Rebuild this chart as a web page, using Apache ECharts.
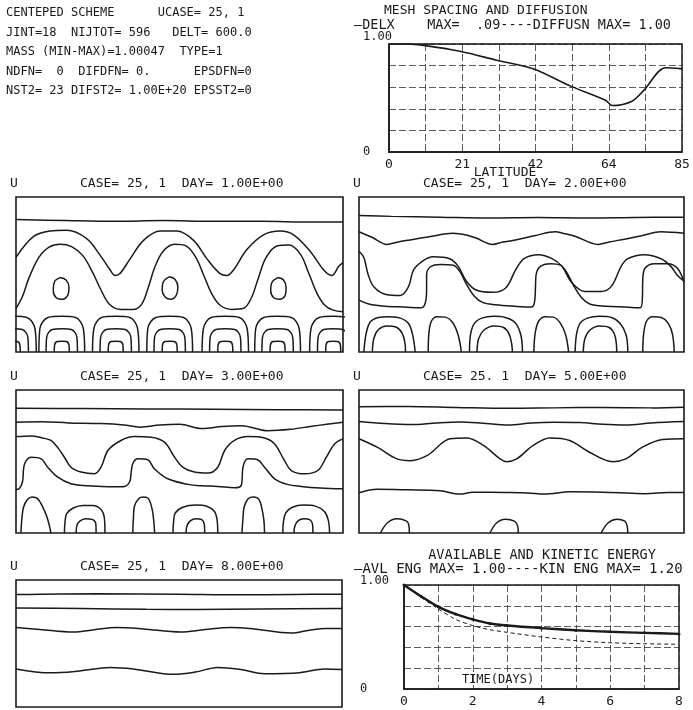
<!DOCTYPE html>
<html>
<head>
<meta charset="utf-8">
<script src="https://cdn.jsdelivr.net/npm/echarts@6/dist/echarts.min.js"></script>
<style>
  html, body { margin: 0; padding: 0; background: #fff; }
  #chart { width: 693px; height: 710px; }
</style>
</head>
<body>
<div id="chart"></div>
<script>
// mesh spacing panel
const latTicks = ['0', '21', '42', '64', '85']
const meshLat = [0, 5, 10.6, 20.9, 31.2, 41.8, 52.7, 62.8, 64.8, 70.5, 73.9, 80.2, 85]
const delx = [1, 1, 0.985, 0.93, 0.85, 0.77, 0.61, 0.48, 0.43, 0.47, 0.57, 0.78, 0.77]
const diffusn = [1, 1, 1, 1, 1, 1, 1, 1, 1, 1, 1, 1, 1]

// energy panel
const dayTicks = ['0', '2', '4', '6', '8']
const days = [0, 0.5, 1, 1.5, 2, 2.5, 3, 4, 5, 6, 7, 8]
const avlEng = [1, 0.89, 0.79, 0.72, 0.67, 0.63, 0.61, 0.585, 0.565, 0.55, 0.54, 0.53]
const kinEng = [1, 0.88, 0.77, 0.67, 0.61, 0.57, 0.545, 0.5, 0.465, 0.445, 0.435, 0.43]

// contour lines of U, x 0..100 across, y 0..100 bottom to top
const day1Lines = [
  [[0,85.5],[15,84.8],[30,84.3],[45,84.8],[60,84.3],[75,84.3],[90,83.8],[100,83.8]],
  [[0,61],[5.3,74.4],[10.4,78],[15.5,78.5],[21.6,73.2],[25.7,62.5],[28.8,52.9],[30.3,49.4],[31.8,50.6],[34.9,60.1],[39,72],[44.1,78],[49.2,78],[54.3,72],[58.4,60.1],[62.4,50.6],[64.5,49.4],[66.5,52.9],[70.6,66.1],[75.7,75.6],[80.8,78],[84.9,75.6],[90,64.9],[94.1,52.9],[96.6,49.4],[98.7,55.3],[100,57.7]],
  [[0,28],[2,36],[4,48],[7,61],[10,67.5],[13.5,69.5],[17,68],[20.5,62],[23.5,51],[26,40],[28.5,31],[32,27.5],[36,27.5],[38.5,31],[40.5,42],[42.5,55],[45,65],[48.5,69.5],[52,68.5],[55,61],[57.5,49],[60,37],[62.5,30],[66,27.5],[69.5,28],[72,35],[74,47],[76.5,61],[80,68.5],[83.5,69],[87,63],[89.5,51],[92,38],[94.5,30],[97,27],[100,26]],
  [[13.5,48],[15.3,46.5],[16.2,42],[15.8,36.5],[14.2,34],[12.3,35],[11.4,39.5],[11.8,45.5],[13.5,48]],
  [[46.8,48.5],[48.6,47],[49.5,42],[49,36.5],[47.4,34],[45.6,35.5],[44.7,40],[45.1,45.5],[46.8,48.5]],
  [[80,48],[81.8,46.5],[82.6,41.5],[82.2,36],[80.6,34],[78.8,35],[77.9,39.5],[78.3,45],[80,48]],
  // bottom arches
  [[-8.2,0],[-7.8,15],[-5.3,22.3],[-1,23],[3.3,22.3],[5.8,15],[6.2,0]],
  [[-5.8,0],[-5.6,9.8],[-3.9,14.5],[-1,15],[1.9,14.5],[3.6,9.8],[3.8,0]],
  [[-3.3,0],[-3.2,4.5],[-2.4,6.8],[-1,7],[0.4,6.8],[1.2,4.5],[1.3,0]],
  [[7,0],[7.3,15],[9.8,22.3],[14,23],[18.2,22.3],[20.6,15],[21,0]],
  [[9.2,0],[9.4,9.8],[11.1,14.5],[14,15],[16.9,14.5],[18.6,9.8],[18.8,0]],
  [[11.7,0],[11.8,4.5],[12.6,6.8],[14,7],[15.4,6.8],[16.2,4.5],[16.3,0]],
  [[23.4,0],[23.8,15],[26.2,22.3],[30.5,23],[34.8,22.3],[37.2,15],[37.6,0]],
  [[25.7,0],[25.9,9.8],[27.6,14.5],[30.5,15],[33.4,14.5],[35.1,9.8],[35.3,0]],
  [[28.2,0],[28.3,4.5],[29.1,6.8],[30.5,7],[31.9,6.8],[32.7,4.5],[32.8,0]],
  [[40,0],[40.3,15],[42.8,22.3],[47,23],[51.2,22.3],[53.6,15],[54,0]],
  [[42.2,0],[42.4,9.8],[44.1,14.5],[47,15],[49.9,14.5],[51.6,9.8],[51.8,0]],
  [[44.7,0],[44.8,4.5],[45.6,6.8],[47,7],[48.4,6.8],[49.2,4.5],[49.3,0]],
  [[56.9,0],[57.3,15],[59.7,22.3],[64,23],[68.3,22.3],[70.7,15],[71.1,0]],
  [[59.2,0],[59.4,9.8],[61.1,14.5],[64,15],[66.9,14.5],[68.6,9.8],[68.8,0]],
  [[61.7,0],[61.8,4.5],[62.6,6.8],[64,7],[65.4,6.8],[66.2,4.5],[66.3,0]],
  [[73,0],[73.3,15],[75.8,22.3],[80,23],[84.2,22.3],[86.6,15],[87,0]],
  [[75.2,0],[75.4,9.8],[77.1,14.5],[80,15],[82.9,14.5],[84.6,9.8],[84.8,0]],
  [[77.7,0],[77.8,4.5],[78.6,6.8],[80,7],[81.4,6.8],[82.2,4.5],[82.3,0]],
  [[89.8,0],[90.2,15],[92.7,22.3],[97,23],[101.3,22.3],[103.8,15],[104.2,0]],
  [[92.2,0],[92.4,9.8],[94.1,14.5],[97,15],[99.9,14.5],[101.6,9.8],[101.8,0]],
  [[94.7,0],[94.8,4.5],[95.6,6.8],[97,7],[98.4,6.8],[99.2,4.5],[99.3,0]]
]

const day2Lines = [
  [[0,88],[10,87.5],[25,87],[40,86.5],[55,86.8],[70,86.5],[85,86.8],[100,87]],
  [[0,77.6],[4,74],[8.6,69.4],[12,71],[15.7,72.3],[22,74.5],[28.9,76.6],[33,75.5],[36,73.5],[41.1,69.4],[44,70.8],[48.2,72.3],[54,75],[60.4,77.6],[63,76.5],[66.5,74.7],[73.6,69.4],[77,71],[81.7,72.8],[87,75],[92.9,77.6],[100,76.6]],
  [[0,65],[1.5,61],[2.8,50],[4.6,42],[8.6,37],[12.7,36.5],[15.2,42],[16.8,53],[19.8,59],[22.8,61.4],[27.9,60.2],[30.5,55.4],[33,45.8],[36,40],[41.1,38.5],[45.2,41.5],[48.2,53],[50.8,60.2],[55.3,62.7],[59.4,60.2],[62.4,55.4],[65.5,44.6],[69.5,39],[74.6,39],[77.7,42.5],[80.7,55.4],[82.7,60.2],[87.8,62.7],[92.9,60.2],[95.9,55.4],[98,49.4],[100,45.8]],
  [[0,33.5],[3,31],[8,29.5],[14,29],[19,28.5],[20.3,31],[20.8,40],[20.8,50],[22,55],[25,56.5],[29,56],[31,52],[33,44],[35.5,36],[38,32],[42,30.5],[48,29.5],[53,29],[54,32],[54.3,42],[54.5,50],[56,55.5],[59,57],[62,56],[64,51],[66,43],[68.5,35],[71,31],[76,29.5],[82,29],[86.5,28.5],[87.2,35],[87.3,46],[88,54],[91,57],[95,57],[98,54],[100,45]],
  // bottom arches
  [[1.5,0],[2.2,12],[3.5,19.5],[6,22.3],[9,22.8],[12.5,22],[15.2,18.5],[16.5,11],[17.3,0]],
  [[4.1,0],[4.6,9],[6,14.5],[8.6,16.8],[11.5,16],[13.3,12],[14.2,5],[14.3,0]],
  [[21.3,0],[21.5,12],[22.3,20],[24,22.8],[26.5,22.5],[28.8,19],[30.5,11],[31.5,0]],
  [[34,0],[34.3,11],[35.5,18.5],[38,22],[41.5,23],[45,22.3],[48,19],[49.8,11],[50.3,0]],
  [[36.3,0],[36.8,8.5],[38.4,14],[41.5,16.8],[44.5,15.8],[46.2,11.5],[47,5],[47.2,0]],
  [[53.8,0],[54.2,12],[55.3,20],[57.3,22.8],[59.8,22.5],[62,18.5],[63.6,11],[64.5,0]],
  [[66.5,0],[66.9,11],[68,18.5],[70.5,22],[74,23],[77.7,22.3],[80.3,18.5],[82.2,11],[82.7,0]],
  [[69,0],[69.5,8.5],[71,14],[74,16.8],[77,15.8],[78.6,11.5],[79.2,5],[79.3,0]],
  [[87.3,0],[87.6,12],[88.5,20],[90.3,22.8],[93,22.3],[95.3,18],[96.5,11],[97,0]]
]

const day3Lines = [
  [[0,87.2],[20,87],[40,86.8],[60,86.5],[80,86.2],[100,86]],
  [[0,77.5],[8,77.8],[16,77],[26,76.5],[33,75.5],[38,74],[44,75.5],[50,76],[57,73],[63,74.5],[69,75],[77,71.5],[84,72.5],[90,74.5],[95,76],[100,77.5]],
  [[0,67.4],[4.6,67.9],[8,66.5],[10.7,64.7],[13,59],[14.8,53],[16.8,46],[19.9,42.6],[24,41.4],[26,46],[28.1,57.7],[32.1,64.7],[36.2,67.4],[41.3,67],[45.4,63.5],[48.5,53],[51,46],[54.6,42.6],[58.7,41.9],[61.7,46],[63.8,57.7],[66.8,64.7],[70.9,67.4],[76,66.5],[79.1,62.3],[82.1,50.7],[84.2,43.7],[88.3,41.4],[92.3,43.7],[94.9,53],[97.4,62.3],[100,65.8]],
  [[0,30.5],[1,31],[2,36],[2.6,48],[4.6,53],[7.7,51.9],[9.7,46],[12.8,39],[16.8,34.4],[22,33],[26,32.6],[30,32.4],[33.2,32.6],[34.8,36],[35.2,42],[35.7,48.4],[37.2,51.9],[40.3,51.2],[42.3,44.9],[46.4,37.9],[52.6,34],[57,33],[61.7,32.6],[66.8,31.6],[68.9,33.3],[69.2,40],[69.4,46],[70.9,51.9],[73.9,51.2],[76,46],[79.1,37.9],[83,34],[87.2,32.6],[93,31.5],[100,30.9]],
  // bottom arches
  [[1.5,0],[1.8,10],[2.3,18],[3.5,23.5],[5,25.2],[6.6,24],[8,19],[9.5,11],[10.7,0]],
  [[14.8,0],[15,8],[15.5,13.5],[17.5,17.5],[20.5,19.3],[23.5,19.3],[26,16.5],[27,11],[27.2,0]],
  [[18.4,0],[18.6,5],[19.5,8.3],[21.3,10],[23.3,9.5],[24.4,6.5],[24.5,0]],
  [[35.7,0],[35.9,10],[36.2,18.5],[37.5,24],[39,25.2],[40.5,24],[41.6,17],[42.1,9],[42.4,0]],
  [[48,0],[48.2,8],[48.7,14],[51,18],[55,19.5],[58.5,18.5],[60.7,15],[61.5,9],[61.7,0]],
  [[52,0],[52.3,5],[53.3,8.5],[55,10],[56.8,9.3],[57.6,6],[57.7,0]],
  [[69.1,0],[69.4,10],[69.8,18.5],[71,24],[72.6,25.2],[74.3,23.5],[75.2,17],[75.8,9],[76,0]],
  [[81.6,0],[81.8,8],[82.5,14],[84.5,18],[88,19.5],[91.5,18.8],[94.3,15],[95.5,9],[95.9,0]],
  [[85,0],[85.3,5],[86.3,8.6],[88,10],[89.8,9.3],[90.7,6],[90.8,0]]
]

const day5Lines = [
  [[0,88.2],[15,88.5],[30,87.8],[46,87.2],[60,87.5],[75,87.8],[90,87.5],[100,88]],
  [[0,78],[8,76.5],[16,75.8],[24,77],[31,77.6],[38,76.8],[46,75.5],[53,77],[60,77.5],[68,77.2],[75,76],[82,75.5],[90,77],[100,78]],
  [[0,65.9],[5.6,60],[11.7,51.8],[15.8,50.6],[20.9,54.1],[28.1,65.9],[33.2,66.4],[38.3,61.2],[43.4,51.8],[45.4,49.9],[48.5,51.8],[53.6,61.2],[58.7,66.4],[64.8,64.7],[70.9,56.5],[78.1,49.9],[82.1,51.8],[87.2,60],[93.4,65.4],[100,65.9]],
  [[0,28.2],[5.6,30.6],[15,30.2],[25,29.5],[31,27.2],[35,28.5],[45,28.3],[52,28],[57,27.2],[65,28.8],[75,28.5],[82,28],[88,27.5],[95,28.3],[100,28.4]],
  [[6.6,0],[8.7,7],[11.7,9.9],[14.5,8.5],[15.3,6],[15.5,0]],
  [[40.3,0],[42.3,7],[45,9.6],[47.8,8.3],[48.8,5],[49,0]],
  [[74.5,0],[76.6,7],[79.3,9.7],[81.8,8.3],[82.5,5],[82.7,0]]
]

const day8Lines = [
  [[0,88.5],[25,89.2],[50,88.8],[68,88.3],[85,88.6],[100,88.8]],
  [[0,78],[20,77.5],[40,77],[55,76.8],[75,77.2],[100,77.6]],
  [[0,62.6],[7.4,61],[17.7,59],[24,60.8],[31,62.6],[39,61.5],[50.5,59],[58,61],[65.9,62.6],[73,61.5],[84.4,58.3],[90,60.5],[95,61.8],[100,61.9]],
  [[0,30],[10.5,26.9],[18.7,28.2],[29,31.2],[36,30],[48.5,25.7],[55,27.5],[61.8,31.2],[69,29.5],[76.2,26.2],[87,27],[94.7,30],[100,29.5]]
]

const panelTitles = [
  'CASE= 25, 1  DAY= 1.00E+00',
  'CASE= 25, 1  DAY= 2.00E+00',
  'CASE= 25, 1  DAY= 3.00E+00',
  'CASE= 25. 1  DAY= 5.00E+00',
  'CASE= 25, 1  DAY= 8.00E+00'
]

const headerLines = [
  'CENTEPED SCHEME      UCASE= 25, 1',
  'JINT=18  NIJTOT= 596   DELT= 600.0',
  'MASS (MIN-MAX)=1.00047  TYPE=1',
  'NDFN=  0  DIFDFN= 0.      EPSDFN=0',
  'NST2= 23 DIFST2= 1.00E+20 EPSST2=0'
]

const ink = '#1a1a1a'
const mono = '"DejaVu Sans Mono", monospace'

// panel boxes in pixels: left, top, width, height
const contourBoxes = [
  [16, 197, 327, 155],
  [359, 197, 325, 155],
  [16, 390, 327, 143],
  [359, 390, 325, 143],
  [16, 580, 326, 127]
]
const contourSets = [day1Lines, day2Lines, day3Lines, day5Lines, day8Lines]

const chart = echarts.init(document.getElementById('chart'), null, { renderer: 'canvas' })

const grids = []
const xAxes = []
const yAxes = []
const series = []
const graphics = []

function addText(text, x, y, size, align) {
  graphics.push({
    type: 'text',
    x: x,
    y: y,
    style: {
      text: text,
      font: size + 'px ' + mono,
      fill: ink,
      align: align || 'left',
      verticalAlign: 'middle'
    }
  })
}

// header text block
headerLines.forEach((t, i) => addText(t, 6, 13 + i * 19.5, 12))

function plotAxes(gi, xmax, xint, xlabels, ymax, ymargin, topPad) {
  xAxes.push({
    gridIndex: gi, type: 'value', min: 0, max: xmax, interval: xint,
    axisLine: { show: true, lineStyle: { color: ink, width: 1.5 } },
    axisTick: { show: false },
    splitLine: { show: true, lineStyle: { color: '#333', width: 0.8, type: [7, 3] } },
    axisLabel: {
      color: ink, fontFamily: mono, fontSize: 13, margin: 6,
      formatter: function (v) {
        const i = Math.round(v / xint)
        return i % 2 === 0 ? xlabels[i / 2] : ''
      }
    }
  })
  yAxes.push({
    gridIndex: gi, type: 'value', min: 0, max: ymax, interval: 0.2,
    axisLine: { show: true, lineStyle: { color: ink, width: 1.5 } },
    axisTick: { show: false },
    splitLine: { show: true, lineStyle: { color: '#333', width: 0.8, type: [7, 3] } },
    axisLabel: {
      color: ink, fontFamily: mono, fontSize: 12, align: 'left',
      margin: ymargin,
      formatter: function (v) {
        if (v === 0) return '0'
        if (Math.abs(v - ymax) < 1e-6) return '{t|1.00}'
        return ''
      },
      rich: { t: { fontFamily: mono, fontSize: 12, color: ink, padding: [0, 0, topPad, 0] } }
    }
  })
}

// mesh spacing chart (grid 0)
grids.push({ left: 389, top: 44, width: 293, height: 108, show: true, borderColor: ink, borderWidth: 1.5 })
plotAxes(0, 85, 85 / 8, latTicks, 1, 26, 14)
series.push({
  type: 'line', xAxisIndex: 0, yAxisIndex: 0, symbol: 'none', smooth: 0.3,
  data: meshLat.map((x, i) => [x, delx[i]]),
  lineStyle: { color: ink, width: 1.6 }
})
series.push({
  type: 'line', xAxisIndex: 0, yAxisIndex: 0, symbol: 'none',
  data: meshLat.map((x, i) => [x, diffusn[i]]),
  lineStyle: { color: ink, width: 1, type: [4, 3] }
})
addText('MESH SPACING AND DIFFUSION', 384, 11, 13)
addText('\u2014DELX    MAX=  .09----DIFFUSN MAX= 1.00', 354, 25, 13.5)
addText('LATITUDE', 505, 173, 13, 'center')

// energy chart (grid 1)
grids.push({ left: 404, top: 585, width: 275, height: 104, show: true, borderColor: ink, borderWidth: 1.5 })
plotAxes(1, 8, 1, dayTicks, 1, 44, 8)
series.push({
  type: 'line', xAxisIndex: 1, yAxisIndex: 1, symbol: 'circle', symbolSize: 3, smooth: 0.3,
  data: days.map((d, i) => [d, avlEng[i]]),
  itemStyle: { color: ink },
  lineStyle: { color: ink, width: 2.4 }
})
series.push({
  type: 'line', xAxisIndex: 1, yAxisIndex: 1, symbol: 'none', smooth: 0.3,
  data: days.map((d, i) => [d, kinEng[i]]),
  lineStyle: { color: ink, width: 1, type: [4, 3] }
})
addText('AVAILABLE AND KINETIC ENERGY', 542, 555, 13.5, 'center')
addText('\u2014AVL ENG MAX= 1.00----KIN ENG MAX= 1.20', 354, 569, 14)
addText('TIME(DAYS)', 498, 680, 12, 'center')

// contour panels
contourBoxes.forEach((b, k) => {
  const gi = grids.length
  grids.push({ left: b[0], top: b[1], width: b[2], height: b[3], show: true, borderColor: ink, borderWidth: 1.6 })
  xAxes.push({ gridIndex: gi, type: 'value', min: 0, max: 100, show: false })
  yAxes.push({ gridIndex: gi, type: 'value', min: 0, max: 100, show: false })
  contourSets[k].forEach((line) => {
    series.push({
      type: 'line', xAxisIndex: gi, yAxisIndex: gi, symbol: 'none', smooth: 0.35,
      clip: true, silent: true,
      data: line,
      lineStyle: { color: ink, width: 1.5 }
    })
  })
  addText('U', b[0] - 6, b[1] - 13, 13)
  addText(panelTitles[k], b[0] + 64, b[1] - 13, 13)
})

chart.setOption({
  animation: false,
  backgroundColor: '#fff',
  grid: grids,
  xAxis: xAxes,
  yAxis: yAxes,
  series: series,
  graphic: graphics
})
</script>
</body>
</html>
